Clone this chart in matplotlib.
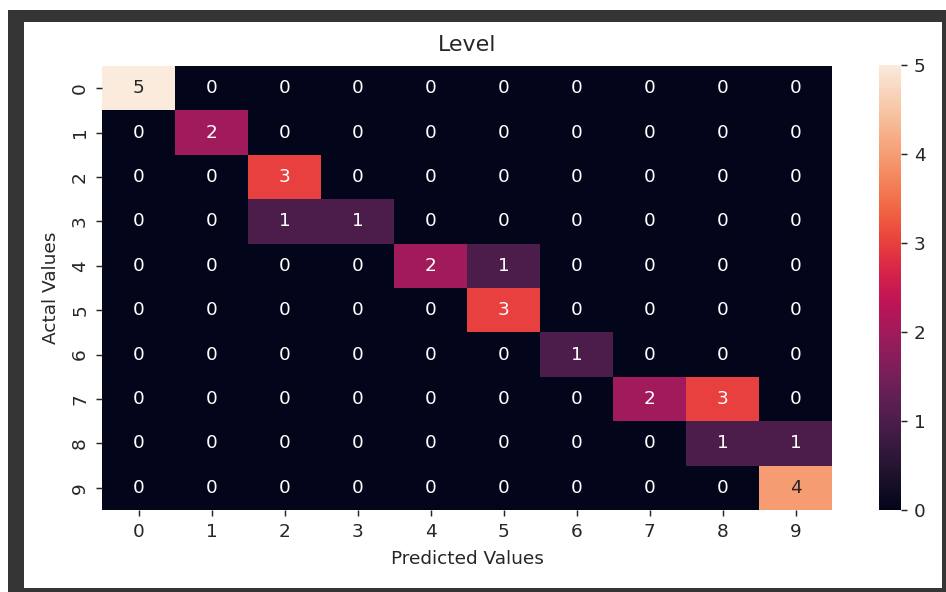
import numpy as np
import matplotlib
matplotlib.use("Agg")
import matplotlib.pyplot as plt
import seaborn as sns
from matplotlib.patches import Rectangle

# Confusion matrix values
labels = [0, 1, 2, 3, 4, 5, 6, 7, 8, 9]
cm = np.array([
    [5, 0, 0, 0, 0, 0, 0, 0, 0, 0],
    [0, 2, 0, 0, 0, 0, 0, 0, 0, 0],
    [0, 0, 3, 0, 0, 0, 0, 0, 0, 0],
    [0, 0, 1, 1, 0, 0, 0, 0, 0, 0],
    [0, 0, 0, 0, 2, 1, 0, 0, 0, 0],
    [0, 0, 0, 0, 0, 3, 0, 0, 0, 0],
    [0, 0, 0, 0, 0, 0, 1, 0, 0, 0],
    [0, 0, 0, 0, 0, 0, 0, 2, 3, 0],
    [0, 0, 0, 0, 0, 0, 0, 0, 1, 1],
    [0, 0, 0, 0, 0, 0, 0, 0, 0, 4],
])

# classic notebook tick look
plt.rcParams.update({
    "xtick.bottom": True, "ytick.left": True,
    "xtick.direction": "out", "ytick.direction": "out",
    "xtick.major.size": 3.5, "ytick.major.size": 3.5,
    "xtick.major.width": 0.8, "ytick.major.width": 0.8,
    "xtick.color": "#262626", "ytick.color": "#262626",
})

# the screenshot is an enlarged notebook figure, so render at a higher dpi
W, H = 946, 592
DPI = 133
fig = plt.figure(figsize=(W / DPI, H / DPI), dpi=DPI)

# screenshot frame (dark border around white area)
fig.add_artist(Rectangle((8 / W, 0), (W - 8) / W, (H - 10) / H,
                         transform=fig.transFigure, facecolor="#353535",
                         edgecolor="none", zorder=-2))
fig.add_artist(Rectangle((24 / W, (H - 588) / H), (942 - 24) / W, (588 - 22) / H,
                         transform=fig.transFigure, facecolor="white",
                         edgecolor="none", zorder=-1))

ax = fig.add_axes([102 / W, (H - 510) / H, 730 / W, 444 / H])
cax = fig.add_axes([879 / W, (H - 510) / H, 22 / W, 445 / H])

sns.heatmap(cm, annot=True, fmt="d", ax=ax, cbar_ax=cax,
            xticklabels=labels, yticklabels=labels)

ax.set_title("Level", color="#262626", pad=8)
ax.set_xlabel("Predicted Values", color="#262626", labelpad=5)
ax.set_ylabel("Actal Values", color="#262626", labelpad=6)

ax.xaxis.set_ticks_position("bottom")
ax.yaxis.set_ticks_position("left")
for t in ax.xaxis.get_major_ticks() + ax.yaxis.get_major_ticks():
    t.tick1line.set_visible(True)
    t.tick1line.set_markersize(3.5 * 1.0)
    t.tick1line.set_markeredgewidth(0.8)
    t.tick1line.set_color("#262626")
cax.yaxis.set_ticks_position("right")
for t in cax.yaxis.get_major_ticks():
    t.tick2line.set_visible(True)
    t.tick2line.set_markersize(3.5)
    t.tick2line.set_markeredgewidth(0.8)
    t.tick2line.set_color("#262626")

fig.savefig("out.png", dpi=DPI)
